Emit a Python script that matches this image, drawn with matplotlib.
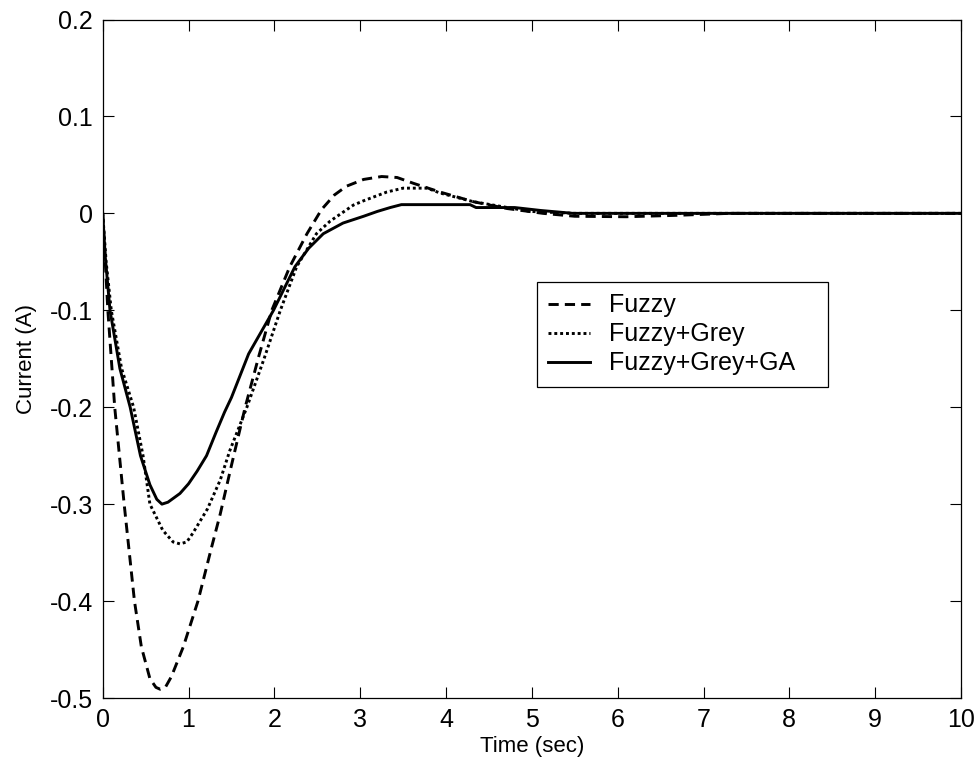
import matplotlib
matplotlib.use("Agg")
import matplotlib.pyplot as plt

# Fuzzy (dashed)
t_fuzzy = [0, 0.03, 0.06, 0.14, 0.25, 0.37, 0.45, 0.55, 0.62, 0.67, 0.73, 0.8, 0.94, 1.11, 1.27,
           1.37, 1.5, 1.66, 1.82, 1.97, 2.18, 2.38, 2.55, 2.7, 2.84, 3.04, 3.25, 3.43, 3.62, 3.93,
           4.32, 4.71, 5.13, 5.5, 6.1, 6.7, 7.3, 10]
v_fuzzy = [0, -0.05, -0.1, -0.2, -0.3, -0.4, -0.447, -0.48, -0.489, -0.491, -0.489, -0.478, -0.447,
           -0.4, -0.344, -0.31, -0.26, -0.2, -0.147, -0.1, -0.055, -0.021, 0.004, 0.019, 0.028, 0.035,
           0.038, 0.037, 0.031, 0.022, 0.012, 0.005, 0, -0.003, -0.0035, -0.002, 0, 0]

# Fuzzy+Grey (dotted)
t_grey = [0, 0.04, 0.1, 0.22, 0.36, 0.47, 0.55, 0.7, 0.82, 0.9, 0.98, 1.05, 1.22, 1.37, 1.48,
          1.68, 1.88, 2.07, 2.26, 2.49, 2.65, 2.92, 3.04, 3.31, 3.5, 3.78, 3.93, 4.32, 4.98,
          5.5, 10]
v_grey = [0, -0.05, -0.1, -0.16, -0.2, -0.25, -0.3, -0.327, -0.339, -0.341, -0.339, -0.33,
          -0.305, -0.275, -0.245, -0.2, -0.15, -0.1, -0.055, -0.021, -0.008, 0.0085, 0.013,
          0.022, 0.026, 0.026, 0.021, 0.012, 0.002, 0, 0]

# Fuzzy+Grey+GA (solid)
t_ga = [0, 0.03, 0.085, 0.2, 0.32, 0.44, 0.55, 0.63, 0.69, 0.76, 0.9, 1.0, 1.1, 1.21, 1.32, 1.42,
        1.5, 1.7, 1.99, 2.24, 2.4, 2.57, 2.8, 3.04, 3.2, 3.35, 3.48, 4.28, 4.35, 4.8, 5.1, 5.48, 10]
v_ga = [0, -0.045, -0.1, -0.16, -0.2, -0.25, -0.28, -0.295, -0.3, -0.298, -0.289, -0.279,
        -0.266, -0.25, -0.226, -0.205, -0.19, -0.145, -0.1, -0.055, -0.036, -0.021, -0.01,
        -0.003, 0.002, 0.006, 0.009, 0.009, 0.006, 0.006, 0.003, 0, 0]

labels = ["Fuzzy", "Fuzzy+Grey", "Fuzzy+Grey+GA"]
x_ticks = list(range(0, 11))
y_ticks = [-0.5, -0.4, -0.3, -0.2, -0.1, 0, 0.1, 0.2]
y_tick_labels = ["-0.5", "-0.4", "-0.3", "-0.2", "-0.1", "0", "0.1", "0.2"]

plt.rcParams['font.family'] = ['Liberation Sans', 'DejaVu Sans']
fig = plt.figure(figsize=(9.79, 7.71), dpi=100)
ax = fig.add_axes([102.7/979, 1 - 698/771, (961-102.7)/979, (698-19.5)/771])

lw = 2.1
ax.plot(t_fuzzy, v_fuzzy, color='black', lw=lw, dashes=(3.5, 2.1), label=labels[0])
ax.plot(t_grey, v_grey, color='black', lw=lw, dashes=(1.0, 1.0), label=labels[1])
ax.plot(t_ga, v_ga, color='black', lw=lw, label=labels[2])

ax.set_xlim(0, 10)
ax.set_ylim(-0.5, 0.2)
ax.set_xticks(x_ticks)
ax.set_yticks(y_ticks)
ax.set_yticklabels(y_tick_labels)
ax.tick_params(direction='in', length=8, width=0.8, labelsize=18, top=True, right=True, pad=7)
for s in ax.spines.values():
    s.set_linewidth(0.9)
ax.set_xlabel("Time (sec)", fontsize=16, labelpad=3)
ax.set_ylabel("Current (A)", fontsize=16, labelpad=9)

leg_x0, leg_top, leg_w = 537/979, 1 - 282/771, 291/979
leg = ax.legend(loc='upper left', bbox_to_anchor=(leg_x0, leg_top - 0.2, leg_w, 0.2),
                bbox_transform=fig.transFigure, borderaxespad=0, mode='expand',
                fancybox=False, edgecolor='black', fontsize=18, handlelength=1.66,
                handletextpad=0.79, borderpad=0.45, labelspacing=0.2, framealpha=1)
leg.get_frame().set_linewidth(0.9)

fig.savefig("out.png", dpi=100)
